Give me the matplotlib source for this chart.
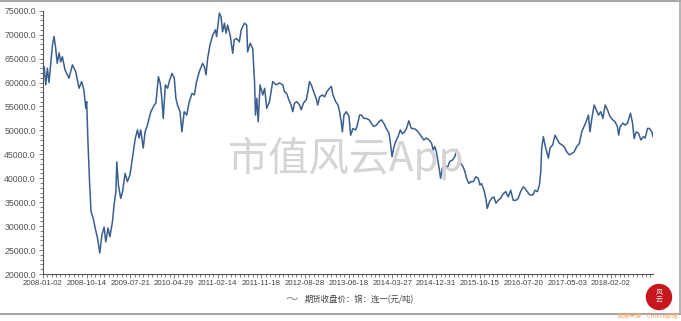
import matplotlib
matplotlib.use("Agg")
import matplotlib.pyplot as plt
import numpy as np
from matplotlib.ticker import MultipleLocator, FormatStrFormatter
from matplotlib.lines import Line2D
from matplotlib.patches import Circle

plt.rcParams['font.family'] = ['Liberation Sans', 'Noto Sans CJK SC', 'DejaVu Sans']

# ---- data (trading-day index on the category axis, close price) ----
trade_idx = [
    0, 5, 12, 19, 26, 41, 48, 55, 62, 70, 77, 84, 96, 113, 128, 142, 157, 168, 178, 186,
    190, 196, 203, 209, 218, 227, 237, 247, 256, 266, 273, 283, 291, 302, 309, 317, 321, 328, 338, 346,
    357, 367, 378, 389, 401, 411, 418, 425, 436, 444, 454, 469, 484, 491, 502, 510, 516, 523, 532, 542,
    549, 561, 571, 578, 585, 596, 604, 614, 625, 636, 648, 658, 668, 680, 694, 702, 709, 716, 726, 738,
    750, 755, 767, 774, 781, 789, 796, 803, 814, 825, 832, 842, 854, 862, 876, 886, 890, 901, 912, 920,
    924, 930, 936, 944, 956, 964, 973, 985, 999, 1014, 1028, 1043, 1050, 1060, 1069, 1079, 1086, 1094, 1104, 1116,
    1123, 1133, 1145, 1152, 1159, 1167, 1177, 1188, 1195, 1203, 1215, 1225, 1235, 1246, 1254, 1261, 1273, 1283, 1290, 1297,
    1302, 1309, 1319, 1331, 1338, 1348, 1360, 1367, 1377, 1385, 1395, 1406, 1418, 1428, 1438, 1450, 1461, 1472, 1482, 1493,
    1505, 1512, 1518, 1525, 1534, 1544, 1554, 1563, 1573, 1581, 1591, 1602, 1612, 1624, 1636, 1646, 1656, 1668, 1679, 1690,
    1697, 1704, 1711, 1723, 1729, 1737, 1748, 1758, 1769, 1781, 1791, 1799, 1806, 1816, 1827, 1835, 1842, 1852, 1860, 1871,
    1883, 1893, 1900, 1907, 1918, 1926, 1932, 1941, 1951, 1961, 1970, 1980, 1990, 2002, 2013, 2023, 2034, 2045, 2057, 2067,
    2077, 2089, 2096, 2106, 2118, 2130, 2140, 2150, 2159, 2165, 2169, 2176, 2183, 2191, 2198, 2205, 2217, 2227, 2234, 2246,
    2256, 2266, 2278, 2289, 2300, 2310, 2321, 2333, 2343, 2353, 2362, 2372, 2379, 2387, 2397, 2406, 2416, 2426, 2435, 2445,
    2455, 2466, 2478, 2488, 2498, 2504, 2510, 2522, 2532, 2542, 2555, 2564, 2571, 2580, 2590, 2600, 2612, 2619, 2629, 2638,
    2648, 2653,
]
close_price = [
    62500, 63300, 59500, 63000, 60000, 67800, 69600, 67200, 64000, 66200, 64300, 65400, 62600, 60900, 63700, 62300, 58800, 60200, 58400, 54600,
    56000, 47000, 38600, 33000, 31700, 29600, 27500, 24400, 28100, 29800, 26700, 29600, 27800, 30900, 34400, 37200, 43400, 38600, 35800, 37200,
    41000, 39300, 40700, 44200, 48300, 50100, 48400, 50100, 46300, 49700, 51100, 53900, 55300, 55700, 61200, 59800, 57000, 52500, 59500, 58800,
    60200, 61900, 60900, 56700, 55300, 53900, 49700, 53900, 53200, 56000, 57700, 57400, 60200, 62300, 64000, 63300, 61600, 65000, 67800, 69900,
    71000, 69600, 74500, 73800, 70600, 72400, 70300, 72000, 69900, 66100, 68900, 69200, 68500, 71000, 72400, 72000, 66400, 68200, 67100, 60200,
    53200, 56700, 51800, 59500, 57400, 58800, 54600, 56000, 60200, 59500, 59900, 59500, 58100, 57700, 56400, 55300, 53900, 55700, 56000, 55300,
    54300, 55700, 56400, 58100, 60200, 59500, 58100, 56700, 55300, 57000, 57400, 57000, 58100, 58800, 59200, 57400, 56000, 55300, 53900, 51800,
    49700, 53200, 53900, 52900, 49000, 50400, 50100, 51100, 53200, 53200, 52500, 52500, 52200, 51500, 50800, 51100, 51800, 52200, 51500, 50400,
    49400, 47000, 44500, 46300, 47700, 48700, 50100, 49300, 49700, 50400, 52000, 50400, 50400, 50100, 49400, 48700, 48000, 48400, 48000, 47300,
    45900, 46600, 45500, 42100, 40000, 42100, 42800, 42100, 43500, 43800, 44500, 45900, 44900, 43100, 42400, 41400, 40000, 38900, 39300, 39300,
    40300, 40000, 38600, 38900, 37500, 35800, 33700, 35000, 35800, 36100, 34800, 35400, 35800, 36800, 37200, 36100, 37500, 35400, 35400, 35800,
    37200, 38200, 37900, 37200, 36500, 36500, 37500, 37200, 38600, 41400, 46300, 48700, 47000, 45500, 44200, 46300, 47000, 49000, 48300, 47300,
    47000, 46600, 45500, 44900, 45200, 45500, 46600, 47300, 49700, 50800, 51800, 53200, 49700, 52500, 55300, 54300, 53200, 53900, 52500, 55300,
    54300, 52900, 52200, 51800, 50800, 49000, 50800, 51500, 51100, 51500, 53600, 51500, 48300, 49700, 49400, 48000, 48700, 48400, 50400, 50400,
    49700, 48700,
]
tick_labels = ['2008-01-02', '2008-10-14', '2009-07-21', '2010-04-29', '2011-02-14',
               '2011-11-18', '2012-08-28', '2013-06-18', '2014-03-27', '2014-12-31',
               '2015-10-15', '2016-07-20', '2017-05-03', '2018-02-02']
label_interval = 190
series_name = '期货收盘价：铜：连一(元/吨)'

W, H = 681, 321
fig = plt.figure(figsize=(W / 100, H / 100), dpi=100)
fig.patch.set_facecolor('white')

ax = fig.add_axes([43 / W, 47 / H, 610 / W, 263.3 / H])
ax.set_facecolor('none')

# watermark
fig.text(346 / W, 1 - 158 / H, '市值风云App', ha='center', va='center', fontsize=29,
         color='#d4d4d4', family=['Noto Sans CJK SC'], zorder=0)

ax.plot(trade_idx, close_price, color='#3a5f8f', lw=1.1, zorder=3)

ax.set_xlim(0, trade_idx[-1])
ax.set_ylim(20000, 75000)
ax.set_xticks([i * label_interval for i in range(len(tick_labels))])
ax.set_xticklabels(tick_labels)
ax.set_xticks(np.arange(0, trade_idx[-1] + 1, label_interval // 10), minor=True)
ax.yaxis.set_major_locator(MultipleLocator(5000))
ax.yaxis.set_minor_locator(MultipleLocator(1000))
ax.yaxis.set_major_formatter(FormatStrFormatter('%.1f'))

for s in ['top', 'right']:
    ax.spines[s].set_visible(False)
for s in ['left', 'bottom']:
    ax.spines[s].set_color('#555555')
    ax.spines[s].set_linewidth(0.8)

ax.tick_params(axis='both', which='both', direction='out', color='#666666', width=0.6)
ax.tick_params(axis='y', which='major', length=2.6, pad=2.5, labelsize=6.3, labelcolor='#555555')
ax.tick_params(axis='y', which='minor', length=2.0)
ax.tick_params(axis='x', which='major', length=3.0, pad=1.5, labelsize=5.7, labelcolor='#444444')
ax.tick_params(axis='x', which='minor', length=2.0)

# legend
fig.text(292 / W, 1 - 300 / H, '〜', ha='center', va='center', fontsize=9,
         color='#8a8a8a', family=['Noto Sans CJK SC', 'DejaVu Sans'])
fig.text(305 / W, 1 - 300 / H, series_name, ha='left', va='center', fontsize=6,
         color='#444444', family=['Noto Sans CJK SC', 'DejaVu Sans'])

# frame lines
frame_c = '#a8a8a8'
fig.add_artist(Line2D([0, 1], [1 - 1 / H, 1 - 1 / H], transform=fig.transFigure, color=frame_c, lw=1.5))
fig.add_artist(Line2D([0, 679.5 / W], [1 - 314 / H, 1 - 314 / H], transform=fig.transFigure, color=frame_c, lw=1.5))
fig.add_artist(Line2D([679.5 / W, 679.5 / W], [1 - 314 / H, 1 - 1 / H], transform=fig.transFigure, color=frame_c, lw=1.2))

# logo
fig.add_artist(Circle((6.59, 0.24), 0.125, transform=fig.dpi_scale_trans, color='#c8161d', zorder=5))
fig.text(659 / W, 1 - 297 / H, '风\n云', ha='center', va='center', fontsize=5, color='white',
         linespacing=0.9, family=['Noto Sans CJK SC'], zorder=6)
fig.text(679 / W, 1.5 / H, '数据来源：Choice数据', ha='right', va='bottom', fontsize=4.3,
         color='#f2a766', family=['Noto Sans CJK SC', 'DejaVu Sans'])

fig.savefig('out.png', dpi=100)
